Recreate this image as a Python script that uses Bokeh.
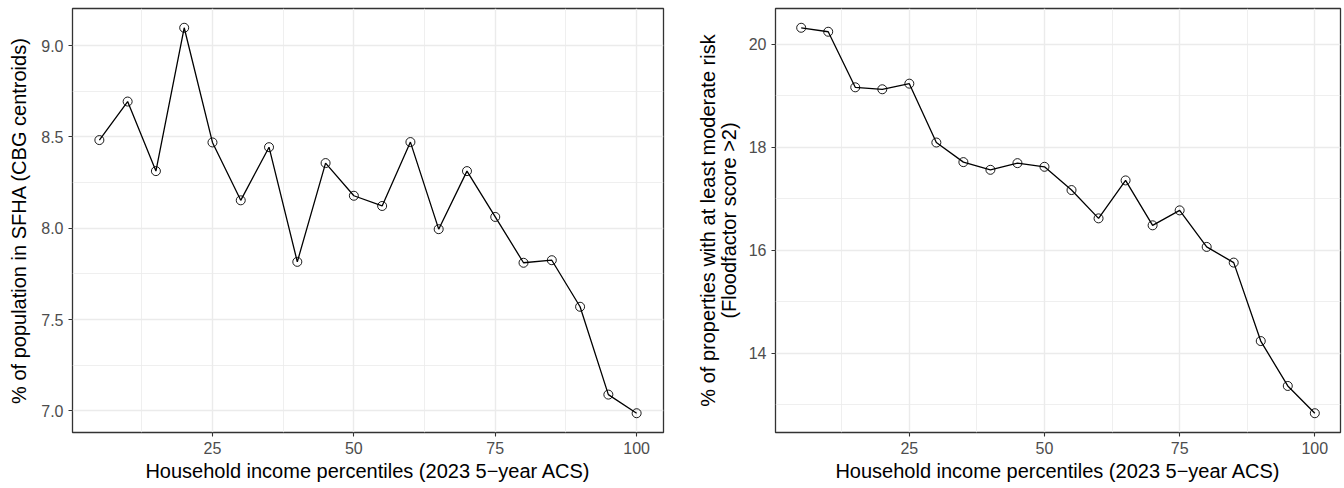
from bokeh.plotting import figure
from bokeh.layouts import row
from bokeh.models import FixedTicker, Range1d, PrintfTickFormatter
from bokeh.embed import file_html
from bokeh.resources import INLINE

percentiles = [5, 10, 15, 20, 25, 30, 35, 40, 45, 50, 55, 60, 65, 70, 75, 80, 85, 90, 95, 100]
sfha_pct = [8.483, 8.694, 8.313, 9.098, 8.470, 8.153, 8.444, 7.816, 8.357, 8.178,
            8.122, 8.472, 7.995, 8.313, 8.062, 7.811, 7.825, 7.570, 7.089, 6.987]
floodfactor_pct = [20.316, 20.239, 19.161, 19.123, 19.232, 18.090, 17.710, 17.561, 17.690, 17.619,
                   17.168, 16.619, 17.355, 16.484, 16.774, 16.065, 15.761, 14.239, 13.368, 12.839]

x_ticks = [25, 50, 75, 100]
x_minor = [12.5, 37.5, 62.5, 87.5]
left_ticks = [7.0, 7.5, 8.0, 8.5, 9.0]
left_minor = [6.75, 7.25, 7.75, 8.25, 8.75, 9.25]
right_ticks = [14, 16, 18, 20]
right_minor = [13, 15, 17, 19, 21]

x_label = "Household income percentiles (2023 5\u2212year ACS)"
left_label = "% of population in SFHA (CBG centroids)"
right_label = "% of properties with at least moderate risk\n(Floodfactor score >2)"

FONT = "Liberation Sans"


def expanded(vals):
    lo, hi = min(vals), max(vals)
    pad = (hi - lo) * 0.05
    return Range1d(lo - pad, hi + pad)


def make_panel(yvals, yticks, yminor, ylabel, width, border_left, border_right, fmt, ystandoff):
    p = figure(width=width, height=488, output_backend="svg", toolbar_location=None,
               x_range=expanded(percentiles), y_range=expanded(yvals),
               min_border_left=border_left, min_border_right=border_right,
               min_border_top=8, min_border_bottom=56)
    p.background_fill_color = "white"
    p.border_fill_color = "white"
    p.outline_line_color = "#333333"
    p.outline_line_width = 1.3

    p.xaxis.ticker = FixedTicker(ticks=x_ticks, minor_ticks=x_minor)
    p.yaxis.ticker = FixedTicker(ticks=yticks, minor_ticks=yminor)
    p.yaxis.formatter = PrintfTickFormatter(format=fmt)

    for ax in (p.xaxis, p.yaxis):
        ax.axis_line_color = None
        ax.major_tick_line_color = "#333333"
        ax.major_tick_line_width = 1.1
        ax.major_tick_out = 4
        ax.major_tick_in = 0
        ax.minor_tick_line_color = None
        ax.major_label_text_font = FONT
        ax.major_label_text_font_size = "16px"
        ax.major_label_text_color = "#4D4D4D"
        ax.axis_label_text_font = FONT
        ax.axis_label_text_font_size = "20px"
        ax.axis_label_text_font_style = "normal"
        ax.axis_label_text_color = "black"
        ax.axis_label_text_line_height = 0.95
        ax.major_label_standoff = 5

    p.xaxis.axis_label = x_label
    p.xaxis.axis_label_standoff = 3
    p.yaxis.axis_label = ylabel
    p.yaxis.axis_label_standoff = ystandoff

    p.grid.grid_line_color = "#EBEBEB"
    p.grid.grid_line_width = 1.4
    p.grid.minor_grid_line_color = "#EBEBEB"
    p.grid.minor_grid_line_width = 0.8

    p.line(percentiles, yvals, line_color="black", line_width=1.3)
    p.scatter(percentiles, yvals, marker="circle", size=9, fill_color=None,
              line_color="black", line_width=0.9)
    return p


p1 = make_panel(sfha_pct, left_ticks, left_minor, left_label, 672, 72, 9, "%.1f", 8)
p2 = make_panel(floodfactor_pct, right_ticks, right_minor, right_label, 672, 103, 4, "%d", 6)

layout = row(p1, p2)
open("out.html", "w").write(file_html(layout, INLINE))
